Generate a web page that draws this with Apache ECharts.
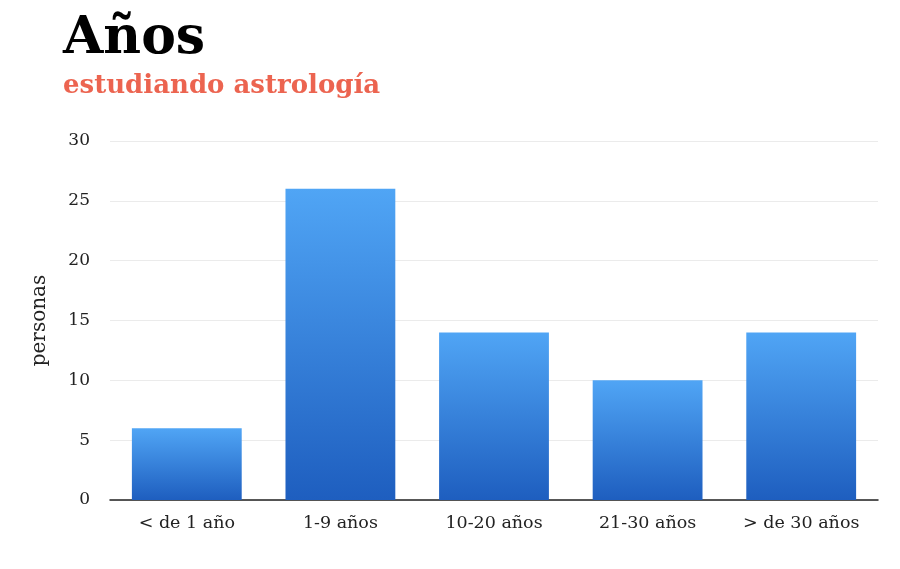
<!DOCTYPE html>
<html><head><meta charset="utf-8">
<script src="https://cdn.jsdelivr.net/npm/echarts@6/dist/echarts.min.js"></script>
<style>html,body{margin:0;padding:0;background:#fff}#c{width:900px;height:569px}</style>
</head><body><div id="c"></div>
<script>
const categories = ['< de 1 año', '1-9 años', '10-20 años', '21-30 años', '> de 30 años'];
const personas = [6, 26, 14, 10, 14];
const yTicks = [0, 5, 10, 15, 20, 25, 30];

const chart = echarts.init(document.getElementById('c'));
const serif = '"DejaVu Serif", "Liberation Serif", serif';
chart.setOption({
  backgroundColor: '#fff',
  animation: false,
  title: {
    text: 'Años',
    subtext: 'estudiando astrología',
    left: 58, top: 8,
    itemGap: 8,
    textStyle: { fontFamily: serif, fontWeight: 'bold', fontSize: 52, color: '#000' },
    subtextStyle: { fontFamily: serif, fontWeight: 'bold', fontSize: 26, color: '#ec6450' }
  },
  grid: { left: 110, right: 22, top: 141, bottom: 69 },
  xAxis: {
    type: 'category', data: categories,
    axisLine: { lineStyle: { color: '#222', width: 1.5 } },
    axisTick: { show: false },
    axisLabel: { fontFamily: serif, fontSize: 17.5, color: '#222', margin: 14 }
  },
  yAxis: {
    type: 'value', min: yTicks[0], max: yTicks[yTicks.length - 1], interval: 5,
    name: 'personas', nameLocation: 'middle', nameGap: 60, nameRotate: 90,
    nameTextStyle: { fontFamily: serif, fontSize: 20, color: '#222' },
    axisLine: { show: false }, axisTick: { show: false },
    axisLabel: { fontFamily: serif, fontSize: 17, color: '#222', margin: 20 },
    splitLine: { lineStyle: { color: '#ebebeb', width: 1 } }
  },
  series: [{
    type: 'bar', data: personas, barWidth: '71.5%',
    itemStyle: {
      color: new echarts.graphic.LinearGradient(0, 0, 0, 1, [
        { offset: 0, color: '#50a5f5' },
        { offset: 1, color: '#1e5ebf' }
      ])
    }
  }]
});
</script></body></html>
